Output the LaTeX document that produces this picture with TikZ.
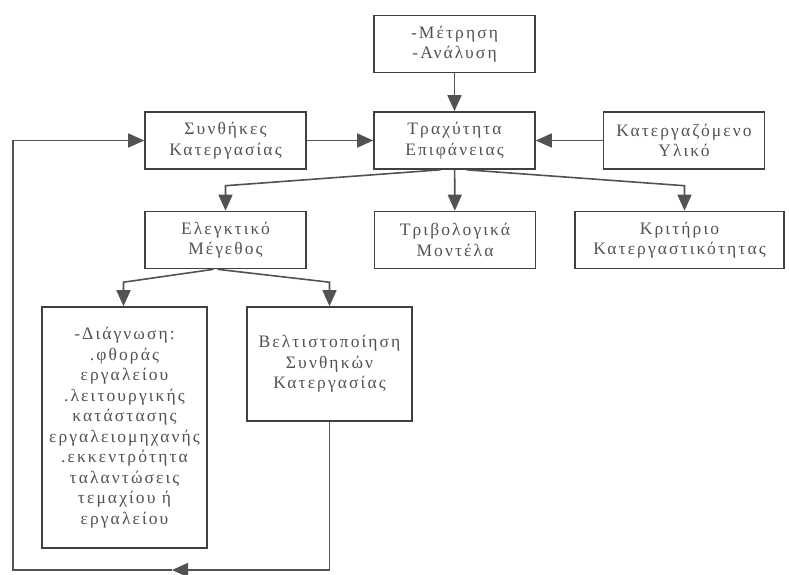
\documentclass[tikz,border=0pt]{standalone}
\usepackage{fontspec}
\setmainfont{Liberation Serif}[LetterSpace=12]
\usetikzlibrary{positioning, shapes.geometric, arrows.meta}

\begin{document}
\begin{tikzpicture} [x=1pt, y=-1pt, box/.style={rectangle, draw=black!75, line width=1.6pt, minimum width=161pt, minimum height=57pt, align=center, text=black!68, font=\fontsize{17.5}{20.5}\selectfont}, wire/.style={draw=black!68, line width=1.6pt}, every edge/.style={wire}, >={Triangle[length=16pt, width=14pt]}]
  \useasboundingbox (0,0) rectangle (789,574);
  \clip (0,0) rectangle (789,574);
  \draw (454.5,44)    node[box](mes)  {-Μέτρηση\\-Ανάλυση};
  \draw (225.5,140.5) node[box](syn)  {Συνθήκες\\Κατεργασίας};
  \draw (454.5,140.5) node[box](trax) {Τραχύτητα\\Επιφάνειας};
  \draw (684,140.5)   node[box](kat)  {Κατεργαζόμενο\\Υλικό};
  \draw (225.5,240)   node[box](eleg) {Ελεγκτικό\\Μέγεθος};
  \draw (455,240)     node[box](trib) {Τριβολογικά\\Μοντέλα};
  \draw (679.5,240)   node[box, minimum width=209pt](krit) {Κριτήριο\\Κατεργαστικότητας};
  \draw (124.5,427.5) node[box, minimum width=165pt, minimum height=241pt](diag) {-Διάγνωση:\\.φθοράς\\εργαλείου\\.λειτουργικής\\κατάστασης\\εργαλειομηχανής\\.εκκεντρότητα\\ταλαντώσεις\\τεμαχίου ή\\εργαλείου};
  \draw (329.5,364)   node[box, minimum width=165pt, minimum height=114pt](belt) {Βελτιστοποίηση\\Συνθηκών\\Κατεργασίας};
  \coordinate (fbm) at (172,570);
  \coordinate (fbl) at (13,570);

\path (mes) edge[->] (trax)
      (syn) edge[->] (trax)
      (kat) edge[->] (trax)
     (trax) edge[->] (trib);
  \draw[wire, ->] ([xshift=-14pt]trax.south) -- ([yshift=25pt]eleg.north) -- (eleg.north);
  \draw[wire, ->] ([xshift=12pt]trax.south) -- ([xshift=5pt, yshift=25pt]krit.north) -- ([xshift=5pt]krit.north);
  \draw[wire, ->] ([xshift=-12pt]eleg.south) -- ([xshift=-1pt, yshift=24pt]diag.north) -- ([xshift=-1pt]diag.north);
  \draw[wire, ->] ([xshift=-8pt]eleg.south) -- ([yshift=24pt]belt.north) -- (belt.north);
  \draw[wire, ->] (belt.south) |- (fbm);
  \draw[wire, ->] (fbm) -- (fbl) |- (syn.west);
\end{tikzpicture}
\end{document}
